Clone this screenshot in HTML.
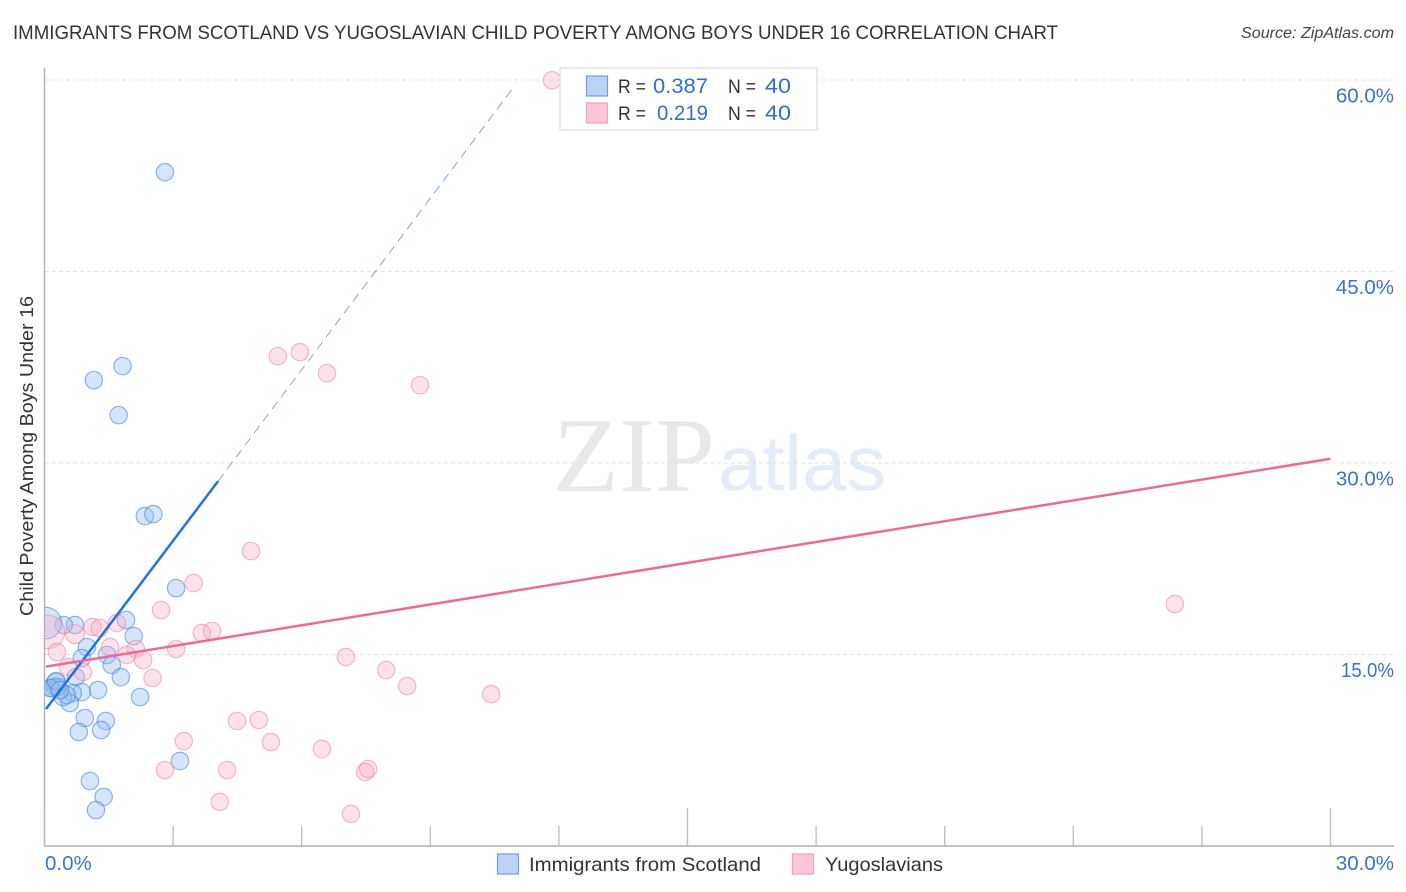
<!DOCTYPE html>
<html lang="en">
<head>
<meta charset="utf-8">
<title>Immigrants from Scotland vs Yugoslavian Child Poverty Among Boys Under 16 Correlation Chart</title>
<style>
html,body{margin:0;padding:0;background:#fff;width:1406px;height:892px;overflow:hidden}
svg{display:block;font-family:"Liberation Sans",sans-serif}
</style>
</head>
<body>
<svg id="chart" width="1406" height="892" viewBox="0 0 1406 892" xmlns="http://www.w3.org/2000/svg">
<defs><clipPath id="plot-clip"><rect x="45" y="60" width="1349" height="786"/></clipPath></defs>
<rect x="0" y="0" width="1406" height="892" fill="#fff"/>
<text x="13" y="39" font-size="19.5" fill="#333" textLength="1045" lengthAdjust="spacingAndGlyphs">IMMIGRANTS FROM SCOTLAND VS YUGOSLAVIAN CHILD POVERTY AMONG BOYS UNDER 16 CORRELATION CHART</text>
<text x="1241" y="38" font-size="15.5" font-style="italic" fill="#444" textLength="153" lengthAdjust="spacingAndGlyphs">Source: ZipAtlas.com</text>
<g>
<text x="553" y="491" font-family="'Liberation Serif',serif" font-size="106" fill="#e8e8e8" textLength="162" lengthAdjust="spacingAndGlyphs">ZIP</text>
<text x="718" y="490" font-size="78" fill="#e3ecf9" textLength="168" lengthAdjust="spacingAndGlyphs">atlas</text>
</g>
<g id="grid"></g>
<g id="axes"></g>
<g id="marks" clip-path="url(#plot-clip)"></g>
<text transform="translate(33,616) rotate(-90)" font-size="18.5" fill="#333" textLength="320" lengthAdjust="spacingAndGlyphs">Child Poverty Among Boys Under 16</text>
<g>
<rect x="560" y="68" width="257" height="62" fill="#fff" stroke="#dcdcdc" stroke-width="1.2"/>
<rect x="586.5" y="76" width="21" height="20" fill="#b9d2f6" stroke="#6f9ddf" stroke-width="1.2"/>
<rect x="586.5" y="103" width="21" height="20" fill="#fcc6d8" stroke="#f0a0ba" stroke-width="1.2"/>
<text x="618" y="93" font-size="19.5" fill="#333" textLength="28" lengthAdjust="spacingAndGlyphs">R =</text>
<text x="653" y="93" font-size="21" fill="#2f6fd0" textLength="55" lengthAdjust="spacingAndGlyphs">0.387</text>
<text x="728" y="93" font-size="19.5" fill="#333" textLength="28" lengthAdjust="spacingAndGlyphs">N =</text>
<text x="765" y="93" font-size="21" fill="#2f6fd0" textLength="26" lengthAdjust="spacingAndGlyphs">40</text>
<text x="618" y="120" font-size="19.5" fill="#333" textLength="28" lengthAdjust="spacingAndGlyphs">R =</text>
<text x="657" y="120" font-size="21" fill="#2f6fd0" textLength="51" lengthAdjust="spacingAndGlyphs">0.219</text>
<text x="728" y="120" font-size="19.5" fill="#333" textLength="28" lengthAdjust="spacingAndGlyphs">N =</text>
<text x="765" y="120" font-size="21" fill="#2f6fd0" textLength="26" lengthAdjust="spacingAndGlyphs">40</text>
</g>
<g>
<rect x="497.5" y="854" width="21" height="20" fill="#b9d2f6" stroke="#6f9ddf" stroke-width="1.2"/>
<text x="529" y="871" font-size="19.5" fill="#333" textLength="232" lengthAdjust="spacingAndGlyphs">Immigrants from Scotland</text>
<rect x="792.5" y="854" width="21" height="20" fill="#fcc6d8" stroke="#f0a0ba" stroke-width="1.2"/>
<text x="825" y="871" font-size="19.5" fill="#333" textLength="118" lengthAdjust="spacingAndGlyphs">Yugoslavians</text>
</g>
</svg>
<script>
const yTickValues = [15, 30, 45, 60];
const yTickLabels = ['15.0%', '30.0%', '45.0%', '60.0%'];
const xTickValues = [0, 3, 6, 9, 12, 15, 18, 21, 24, 27, 30];
const xEndValues = [0, 30];
const xEndLabels = ['0.0%', '30.0%'];

const scotlandX = [2.81,1.15,1.82,1.73,2.34,2.54,3.07,1.90,2.08,0.71,0.45,0.99,0.87,1.46,1.57,1.78,0.73,1.25,2.23,0.94,1.43,0.80,1.32,3.16,1.06,1.38,1.20,0.87,0.66,0.59,0.43,0.52,0.27,0.17,0.24,0.31,0.13,0.03,0.27,0.36];
const scotlandY = [52.78,36.49,37.59,33.75,25.84,26.0,20.2,17.7,16.44,17.31,17.31,15.58,14.72,14.96,14.17,13.23,13.23,12.22,11.67,10.02,9.79,8.93,9.08,6.66,5.09,3.84,2.82,12.06,11.98,11.2,11.67,11.82,12.76,12.37,12.45,12.45,12.37,17.46,12.92,12.22];
const scotlandWeight = [1,1,1,1,1,1,1,1,1,1,1,1,1,1,1,1,1,1,1,1,1,1,1,1,1,1,1,1,1,1,1,1,1.3,1,1,1,1,3.3,1,1];

const yugoslavX = [11.84,5.44,5.96,6.59,8.76,4.82,3.48,2.72,26.37,1.12,1.29,1.69,0.71,0.08,0.29,1.53,2.13,1.92,2.30,3.07,3.67,3.91,0.55,0.90,2.52,4.49,5.0,5.28,3.25,2.81,4.26,4.09,6.47,7.03,7.97,8.46,10.42,7.15,7.48,7.55];
const yugoslavY = [59.98,38.37,38.68,37.04,36.1,23.1,20.6,18.48,18.95,17.15,17.07,17.46,16.6,16.76,15.19,15.58,15.43,14.96,14.57,15.43,16.68,16.84,14.02,13.63,13.16,9.79,9.87,8.14,8.22,5.95,5.95,3.45,7.6,14.8,13.78,12.53,11.9,2.51,5.79,6.03];
const yugoslavWeight = [1,1,1,1,1,1,1,1,1,1,1,1,1.2,3.7,1,1,1,1,1,1,1,1,1,1,1,1,1,1,1,1,1,1,1,1,1,1,1,1,1,1];

const scotlandTrendX = [0.035, 4.05];
const scotlandTrendY = [10.73, 28.58];
const scotlandDashX = [4.05, 10.98];
const scotlandDashY = [28.58, 59.6];
const yugoslavTrendX = [0.035, 30];
const yugoslavTrendY = [14.05, 30.33];

const NS = 'http://www.w3.org/2000/svg';
const xScale = v => 44.5 + v * (1286 / 30);
const yScale = v => 846 - v * (191.5 / 15);
const grid = document.getElementById('grid');
const axes = document.getElementById('axes');
const marks = document.getElementById('marks');

function make(tag, attrs, parent) {
  const el = document.createElementNS(NS, tag);
  for (const k in attrs) el.setAttribute(k, attrs[k]);
  parent.appendChild(el);
  return el;
}

yTickValues.forEach((v, i) => {
  const line = make('line', {x1: 45, x2: 1394, y1: yScale(v), y2: yScale(v), stroke: '#e0e0e0', 'stroke-width': 1, 'stroke-dasharray': '4 3'}, grid);
  
  
  const label = make('text', {x: 1394, y: yScale(v) + 22.5, 'text-anchor': 'end', 'font-size': 20.5, fill: '#3b72d4'}, axes);
  
  
  label.textContent = yTickLabels[i];
  if (yTickLabels[i].charAt(0) === '1') {
    label.setAttribute('textLength', '53');
    label.setAttribute('lengthAdjust', 'spacingAndGlyphs');
  }
});

const yAxisLine = make('line', {x1: 44.5, x2: 44.5, y1: 68, y2: 846, stroke: '#b0b0b0', 'stroke-width': 1.4}, axes);


const xAxisLine = make('line', {x1: 44, x2: 1394, y1: 846, y2: 846, stroke: '#b0b0b0', 'stroke-width': 1.4}, axes);



xTickValues.forEach(v => {
  const major = v % 15 === 0;
  const tick = make('line', {x1: xScale(v), x2: xScale(v), y1: major ? 808 : 826, y2: 846, stroke: '#bbb', 'stroke-width': 1.3}, axes);
  
  
});

xEndValues.forEach((v, i) => {
  const label = make('text', {x: i === 0 ? xScale(v) + 0.5 : 1394, y: 870, 'text-anchor': i === 0 ? 'start' : 'end', 'font-size': 20.5, fill: '#3b72d4'}, axes);
  
  
  label.textContent = xEndLabels[i];
});

scotlandX.forEach((v, i) => {
  const c = make('circle', {cx: xScale(v), cy: yScale(scotlandY[i]), r: 8.7 * Math.sqrt(scotlandWeight[i]), fill: 'rgba(150,190,245,0.4)', stroke: 'rgba(60,125,215,0.55)', 'stroke-width': 1.2}, marks);
  
  
});

yugoslavX.forEach((v, i) => {
  const c = make('circle', {cx: xScale(v), cy: yScale(yugoslavY[i]), r: 8.7 * Math.sqrt(yugoslavWeight[i]), fill: 'rgba(250,175,200,0.36)', stroke: 'rgba(235,125,160,0.52)', 'stroke-width': 1.2}, marks);
  
  
});

const dash = make('line', {x1: xScale(scotlandDashX[0]), y1: yScale(scotlandDashY[0]), x2: xScale(scotlandDashX[1]), y2: yScale(scotlandDashY[1]), stroke: '#7fa6e0', 'stroke-width': 1, 'stroke-dasharray': '9 6'}, marks);



const trendA = make('line', {x1: xScale(scotlandTrendX[0]), y1: yScale(scotlandTrendY[0]), x2: xScale(scotlandTrendX[1]), y2: yScale(scotlandTrendY[1]), stroke: '#2272d9', 'stroke-width': 2.5}, marks);



const trendB = make('line', {x1: xScale(yugoslavTrendX[0]), y1: yScale(yugoslavTrendY[0]), x2: xScale(yugoslavTrendX[1]), y2: yScale(yugoslavTrendY[1]), stroke: '#ec6a97', 'stroke-width': 2.5}, marks);


</script>
</body>
</html>
